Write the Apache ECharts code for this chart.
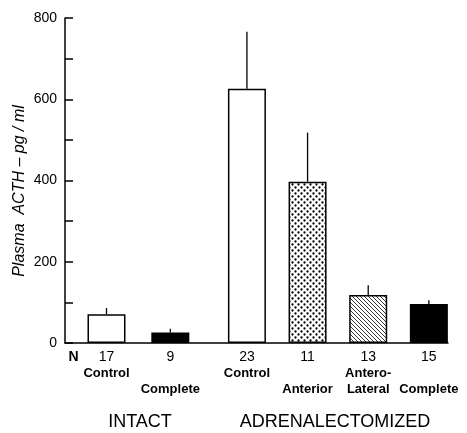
<!DOCTYPE html>
<html>
<head>
<meta charset="utf-8">
<script src="https://cdn.jsdelivr.net/npm/echarts@6/dist/echarts.min.js"></script>
<style>
html,body{margin:0;padding:0;background:#fff;}
#chart{width:467px;height:433px;}
</style>
</head>
<body>
<div id="chart"></div>
<script>
// ---- data ----
var nCounts = ['17', '9', '23', '11', '13', '15'];
var groupNames = ['Control', 'Complete', 'Control', 'Anterior', 'Antero-\nLateral', 'Complete'];
var meanACTH = [71, 26, 626, 397, 118, 96];
var semACTH = [15, 9, 140, 121, 24, 9];
var yTicks = [0, 200, 400, 600, 800];
var groupLabels = ['INTACT', 'ADRENALECTOMIZED'];

// ---- layout (slot centres along the x value axis) ----
var slots = [0.65, 1.65, 2.85, 3.8, 4.75, 5.7];
var labelRowOffset = [0, 1, 0, 1, 0, 1]; // 1 = label drops one row

function makeDots() {
  var c = document.createElement('canvas');
  c.width = 6; c.height = 6;
  var g = c.getContext('2d');
  g.fillStyle = '#fff'; g.fillRect(0, 0, 6, 6);
  g.fillStyle = '#000';
  g.beginPath(); g.arc(1.5, 1.5, 1.15, 0, Math.PI * 2); g.fill();
  g.beginPath(); g.arc(4.5, 4.5, 1.15, 0, Math.PI * 2); g.fill();
  return c;
}
function makeHatch() {
  var c = document.createElement('canvas');
  c.width = 4; c.height = 4;
  var g = c.getContext('2d');
  g.fillStyle = '#fff'; g.fillRect(0, 0, 4, 4);
  g.strokeStyle = '#222'; g.lineWidth = 0.9;
  g.beginPath();
  g.moveTo(-1, -1); g.lineTo(5, 5);
  g.moveTo(-1, 3); g.lineTo(1, 5);
  g.moveTo(3, -1); g.lineTo(5, 1);
  g.stroke();
  return c;
}
var fills = [
  '#fff',
  '#000',
  '#fff',
  { image: makeDots(), repeat: 'repeat' },
  { image: makeHatch(), repeat: 'repeat' },
  '#000'
];

var barData = meanACTH.map(function (v, i) {
  return { value: [slots[i], v], itemStyle: { color: fills[i], borderColor: '#000', borderWidth: 1.5 } };
});
var errData = meanACTH.map(function (v, i) { return [slots[i], v, v + semACTH[i]]; });

var chart = echarts.init(document.getElementById('chart'));
var option = {
  animation: false,
  backgroundColor: '#fff',
  grid: { left: 65, top: 18, width: 383, bottom: 90 },
  xAxis: {
    type: 'value', min: 0, max: 6,
    axisLine: { show: true, lineStyle: { color: '#000', width: 1.5 } },
    axisTick: { show: false },
    splitLine: { show: false },
    axisLabel: {
      customValues: slots,
      margin: 6,
      formatter: function (val) {
        var idx = -1;
        for (var i = 0; i < slots.length; i++) { if (Math.abs(slots[i] - val) < 1e-6) idx = i; }
        if (idx < 0) return '';
        var s = '{n|' + nCounts[idx] + '}\n';
        if (labelRowOffset[idx]) s += '{b| }\n';
        s += groupNames[idx].split('\n').map(function (t) { return '{b|' + t + '}'; }).join('\n');
        return s;
      },
      rich: {
        n: { fontFamily: 'Liberation Sans', fontSize: 14, color: '#000', lineHeight: 16 },
        b: { fontFamily: 'Liberation Sans', fontSize: 13, fontWeight: 'bold', color: '#000', lineHeight: 16 }
      }
    }
  },
  yAxis: {
    type: 'value', min: 0, max: 800, interval: 100,
    axisLine: { show: true, lineStyle: { color: '#000', width: 1.5 } },
    axisTick: { show: true, inside: true, length: 8, lineStyle: { color: '#000', width: 1.5 } },
    splitLine: { show: false },
    axisLabel: {
      margin: 8,
      fontFamily: 'Liberation Sans', fontSize: 14, color: '#000',
      formatter: function (v) { return yTicks.indexOf(v) >= 0 ? String(v) : ''; }
    }
  },
  series: [
    {
      type: 'bar',
      barWidth: 38,
      data: barData
    },
    {
      type: 'custom',
      data: errData,
      renderItem: function (params, api) {
        var p0 = api.coord([api.value(0), api.value(1)]);
        var p1 = api.coord([api.value(0), api.value(2)]);
        return {
          type: 'line',
          shape: { x1: p0[0], y1: p0[1], x2: p1[0], y2: p1[1] },
          style: { stroke: '#000', lineWidth: 1.3 }
        };
      },
      z: 3
    }
  ],
  graphic: [
    { type: 'text', x: 20, y: 191, rotation: Math.PI / 2,
      style: { text: 'Plasma  ACTH – pg / ml', fontFamily: 'Liberation Sans', fontStyle: 'italic', fontSize: 16,
               fill: '#000', align: 'center', verticalAlign: 'middle' } },
    { type: 'text', x: 73.5, y: 357,
      style: { text: 'N', fontFamily: 'Liberation Sans', fontWeight: 'bold', fontSize: 14, fill: '#000', align: 'center', verticalAlign: 'middle' } },
    { type: 'text', x: 140, y: 422,
      style: { text: groupLabels[0], fontFamily: 'Liberation Sans', fontSize: 18, fill: '#000', align: 'center', verticalAlign: 'middle' } },
    { type: 'text', x: 335, y: 422,
      style: { text: groupLabels[1], fontFamily: 'Liberation Sans', fontSize: 18, fill: '#000', align: 'center', verticalAlign: 'middle' } }
  ]
};
chart.setOption(option);
</script>
</body>
</html>
